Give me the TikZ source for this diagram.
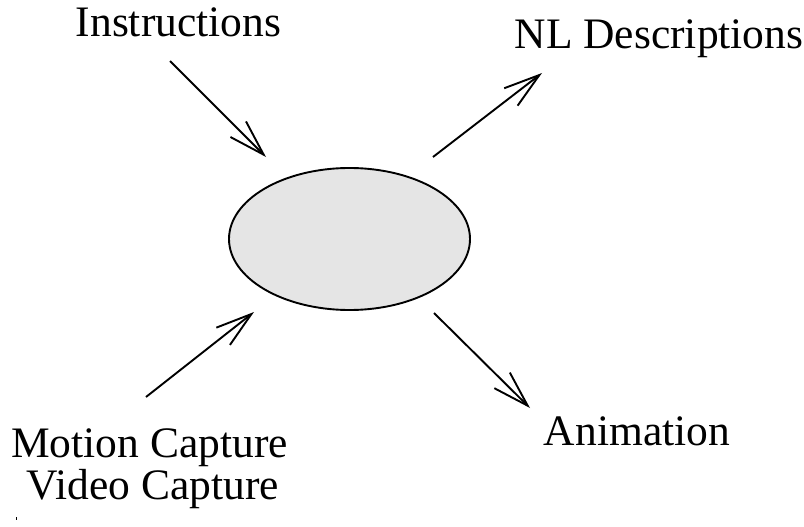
\documentclass[tikz,border=0pt]{standalone}
\usepackage{fontspec}
\setmainfont{Liberation Serif}
\usetikzlibrary{shapes.geometric,arrows.meta}
\begin{document}
\begin{tikzpicture}[x=1pt,y=-1pt,
  lbl/.style={anchor=base,inner sep=0pt,font=\fontsize{43.5}{50}\selectfont},
  conn/.style={line width=1.9pt,-{Straight Barb[length=36pt,width=22pt,line width=1.9pt]}},
  hub/.style={ellipse,draw,line width=1.9pt,fill=gray!20,minimum width=241pt,minimum height=142pt,inner sep=0pt}]
\useasboundingbox (0,0) rectangle (804,527);
\node[hub] (c) at (349.5,239) {};
\node[lbl] (instr) at (178.5,36.5) {Instructions};
\node[lbl] (nl) at (659,49) {NL Descriptions};
\node[lbl] (anim) at (637,445) {Animation};
\node[lbl] (motion) at (149.5,457) {Motion Capture};
\node[lbl] (video) at (153,499) {Video Capture};
\coordinate (a1) at (170,61);
\coordinate (b1) at (266,157);
\coordinate (a2) at (433,157);
\coordinate (b2) at (542,73);
\coordinate (a3) at (146,397);
\coordinate (b3) at (254,312);
\coordinate (a4) at (434,313);
\coordinate (b4) at (530,408);
\draw[conn] (a1) -- (b1);
\draw[conn] (a2) -- (b2);
\draw[conn] (a3) -- (b3);
\draw[conn] (a4) -- (b4);
\fill (15.5,517) rectangle (17,520);
\end{tikzpicture}
\end{document}
